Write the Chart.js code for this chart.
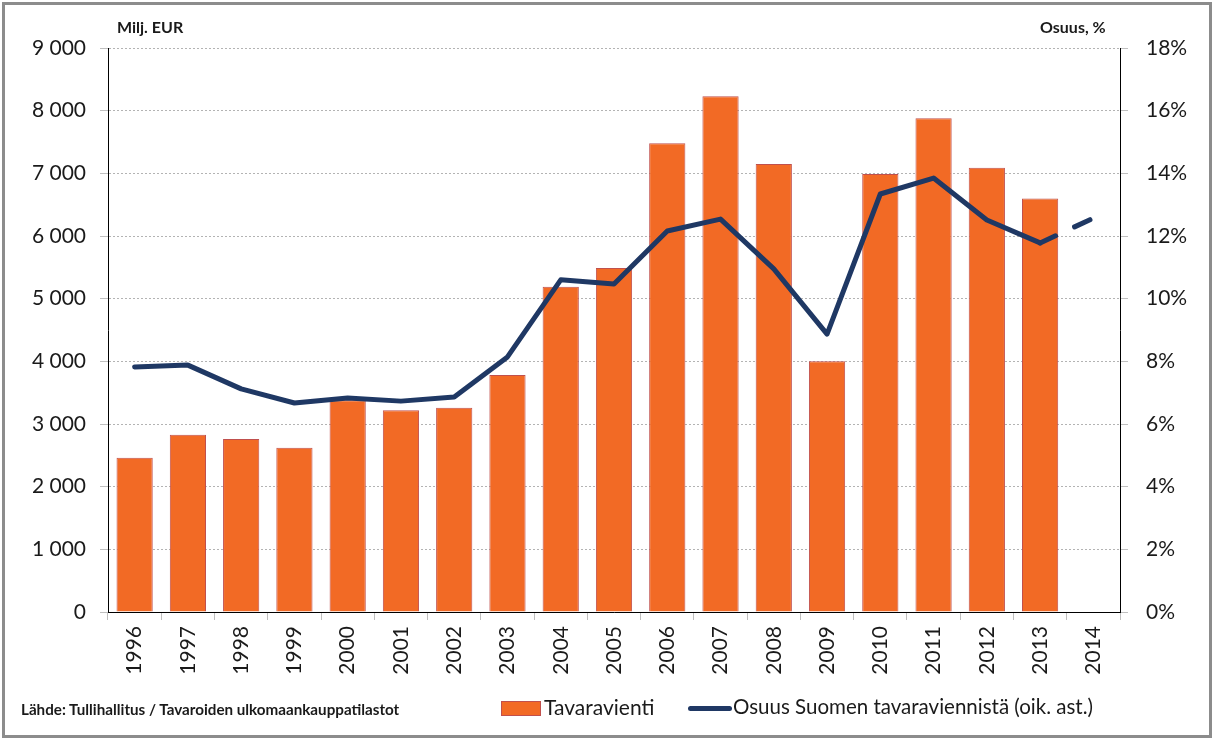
<!DOCTYPE html>
<html>
<head>
<meta charset="utf-8">
<script src="https://cdn.jsdelivr.net/npm/chart.js@4"></script>
<style>
  body { margin: 0; background: #fff; font-family: Lato, "Open Sans", sans-serif; }
  #wrap { position: relative; width: 1214px; height: 740px; }
  #frame { position: absolute; left: 2px; top: 2px; width: 1204px; height: 730px; border: 3px solid #8c8c8c; pointer-events: none; }
  .lbl { position: absolute; font-weight: bold; color: #1a1a1a; white-space: nowrap; }
  .leg { position: absolute; color: #1a1a1a; white-space: nowrap; }
</style>
</head>
<body>
<div id="wrap">
  <canvas id="myChart" width="1214" height="740"></canvas>
  <div id="frame"></div>
  <div class="lbl" style="left:117px; top:17px; font-size:16px;">Milj. EUR</div>
  <div class="lbl" style="left:1040px; top:17px; font-size:16px;">Osuus, %</div>
  <div class="lbl" style="left:21px; top:700px; font-size:15.2px;">Lähde: Tullihallitus / Tavaroiden ulkomaankauppatilastot</div>
  <div class="leg" style="left:501px; top:701px; width:38px; height:13px; background:#f26a25; border:1px solid #c0504d;"></div>
  <div class="leg" style="left:544px; top:694px; font-size:21px;">Tavaravienti</div>
  <div class="leg" style="left:688px; top:706px; width:44px; height:5px; border-radius:3px; background:#1f3864;"></div>
  <div class="leg" style="left:733px; top:694px; font-size:20.5px;">Osuus Suomen tavaraviennistä (oik. ast.)</div>
</div>
<script>
// Vuodet
var vuodet = ["1996", "1997", "1998", "1999", "2000", "2001", "2002", "2003", "2004", "2005",
  "2006", "2007", "2008", "2009", "2010", "2011", "2012", "2013", "2014"];

// Tavaravienti, milj. EUR (2014 puuttuu)
var tavaravienti = [2460, 2830, 2760, 2620, 3380, 3220, 3260, 3780, 5190, 5490,
  7480, 8230, 7150, 4000, 6990, 7880, 7090, 6600, null];

// Osuus Suomen tavaraviennistä, %
var osuus = [7.82, 7.88, 7.12, 6.67, 6.83, 6.73, 6.86, 8.14, 10.6, 10.47,
  12.16, 12.54, 10.95, 8.87, 13.34, 13.85, 12.51, 11.78, 12.57];

var tickFont = { family: "Lato", size: 21 };

function eurLabel(v) {
  return String(v).replace(/\B(?=(\d{3})+(?!\d))/g, " ");
}

var ctx = document.getElementById("myChart").getContext("2d");
var myChart = new Chart(ctx, {
  type: "bar",
  data: {
    labels: vuodet,
    datasets: [
      {
        type: "line",
        label: "Osuus Suomen tavaraviennistä (oik. ast.)",
        data: osuus,
        yAxisID: "y2",
        borderColor: "#1f3864",
        borderWidth: 5,
        borderCapStyle: "round",
        borderJoinStyle: "round",
        pointRadius: 0,
        tension: 0,
        order: 0,
        segment: {
          // viimeinen väli katkoviivana
          borderDash: function (c) {
            return c.p0DataIndex === 17 ? [17, 21] : undefined;
          },
        },
      },
      {
        label: "Tavaravienti",
        data: tavaravienti,
        yAxisID: "y",
        backgroundColor: "#f26a25",
        borderColor: "#c0504d",
        borderWidth: 1,
        barPercentage: 0.68,
        categoryPercentage: 1,
        order: 1,
      },
    ],
  },
  options: {
    responsive: false,
    animation: false,
    layout: { padding: { top: 48, left: 0, right: 0, bottom: 0 } },
    plugins: {
      legend: { display: false },
      tooltip: { enabled: false },
    },
    scales: {
      x: {
        grid: { offset: true, drawOnChartArea: false, tickLength: 8, color: "#bfbfbf" },
        border: { color: "#000", width: 1 },
        ticks: { font: tickFont, color: "#1a1a1a", minRotation: 90, maxRotation: 90, padding: 6 },
        afterFit: function (s) { s.height = 128; },
      },
      y: {
        position: "left",
        min: 0,
        max: 9000,
        grid: { color: "#b3b3b3", tickLength: 8, tickColor: "#bfbfbf" },
        border: { color: "#000", width: 1, dash: [2, 2] },
        ticks: {
          stepSize: 1000,
          font: tickFont,
          color: "#1a1a1a",
          padding: 14,
          callback: function (v) { return eurLabel(v); },
        },
        afterFit: function (s) { s.width = 108; },
      },
      y2: {
        position: "right",
        min: 0,
        max: 18,
        grid: { drawOnChartArea: false, tickLength: 8, color: "#bfbfbf" },
        border: { color: "#000", width: 1 },
        ticks: {
          stepSize: 2,
          font: tickFont,
          color: "#1a1a1a",
          padding: 18,
          callback: function (v) { return v + "%"; },
        },
        afterFit: function (s) { s.width = 94; },
      },
    },
  },
});
</script>
</body>
</html>
